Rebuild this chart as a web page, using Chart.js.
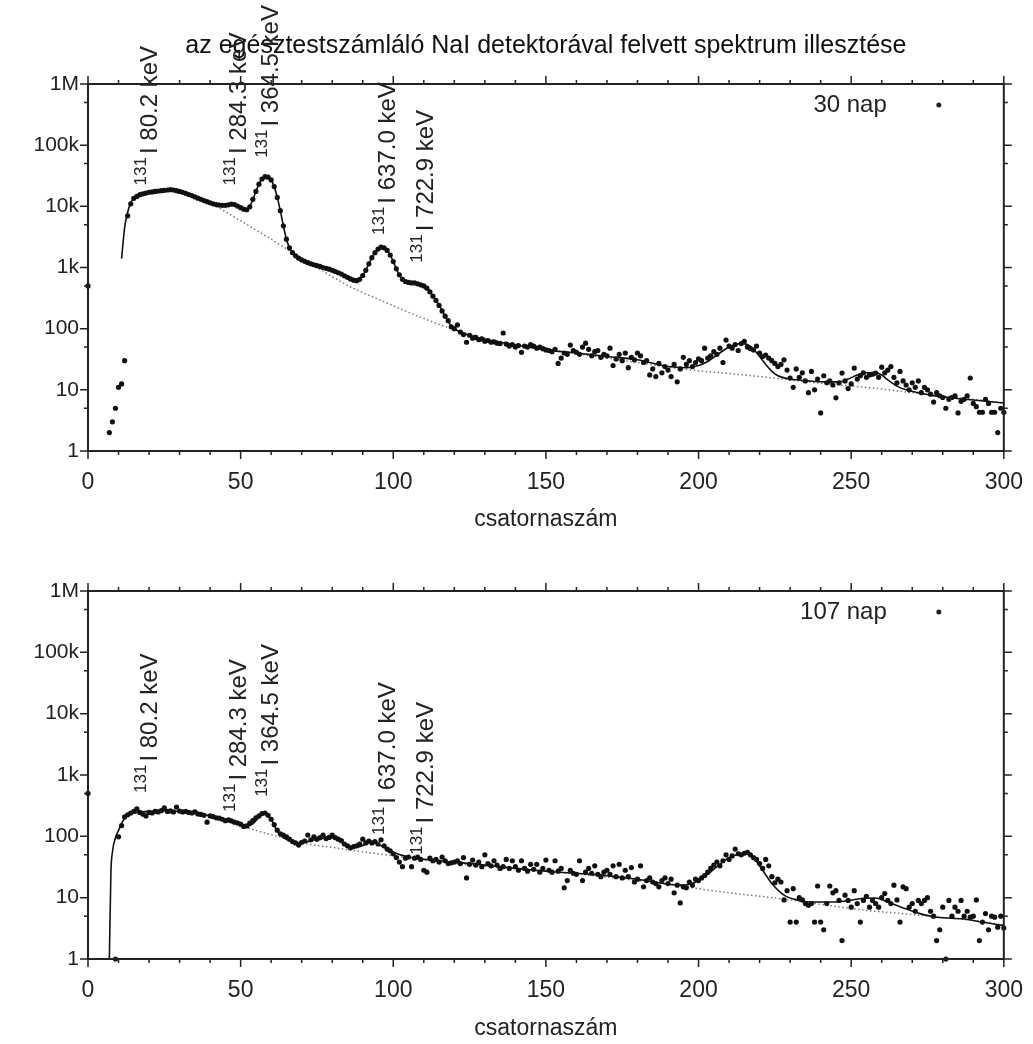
<!DOCTYPE html>
<html>
<head>
<meta charset="utf-8">
<script src="https://cdn.jsdelivr.net/npm/chart.js@4.4.1/dist/chart.umd.min.js"></script>
<style>
  html, body { margin: 0; background: #fff; overflow: hidden; }
  .box { position: absolute; left: 0; width: 1033px; }
  canvas { display: block; }
</style>
</head>
<body>
<div class="box" style="top:0;height:540px"><canvas id="c30"></canvas></div>
<div class="box" style="top:540px;height:504px"><canvas id="c107"></canvas></div>
<script>
// counts per channel (index = channel), null = no point
const counts30 = [
  500, null, null, null, null, null, null, 2, 3, 5,
  11, 12.5, 30, 7000, 11000, 13500, 14500, 15500, 16000, 16500,
  17000, 17200, 17500, 17800, 18000, 18300, 18500, 18700, 18500, 18000,
  17500, 17000, 16300, 15600, 15000, 14300, 13600, 13000, 12400, 11900,
  11400, 11000, 10700, 10500, 10400, 10400, 10600, 10900, 10700, 10100,
  9500, 9000, 8800, 9800, 13000, 17500, 23000, 28000, 30500, 30000,
  27000, 21000, 14000, 8500, 4800, 2900, 2100, 1750, 1550, 1420,
  1330, 1260, 1200, 1150, 1110, 1070, 1040, 1000, 970, 940,
  900, 860, 820, 780, 730, 690, 650, 620, 610, 640,
  740, 900, 1150, 1450, 1750, 2000, 2150, 2100, 1900, 1600,
  1250, 950, 760, 640, 590, 570, 560, 560, 540, 520,
  500, 460, 400, 340, 290, 240, 195, 160, 135, 107,
  100, 115, 88, 80, 60, 78, 70, 72, 66, 68,
  62, 64, 60, 61, 58, 57, 85, 56, 52, 55,
  50, 53, 41, 52, 50, 55, 52, 48, 50, 47,
  45, 44, 42, 46, 27, 33, 40, 38, 54, 44,
  41, 38, 50, 58, 46, 36, 42, 44, 34, 38,
  36, 48, 25, 32, 38, 30, 40, 23, 34, 31,
  40, 36, 28, 30, 17.5, 22, 16.5, 27, 19, 24,
  21, 16.5, 26, 13.5, 22, 34, 26, 30, 24, 28,
  32, 30, 48, 33, 36, 42, 38, 48, 28, 65,
  52, 48, 55, 44, 57, 62, 50, 47, 45, 52,
  40, 35, 37, 33, 30, 27, 24, 26, 31, 21,
  15.6, 11, 22, 16, 19, 14, 9, 20, 10, 15,
  4.2, 17, 13, 14, 12, 7.4, 13, 18.8, 14, 10.5,
  12.5, 22.7, 15, 17, 19, 16, 17.5, 18, 18.8, 16,
  23.5, 19, 21, 24, 16, 13, 20, 14, 12, 10,
  13, 11, 14, 9, 11, 10, 8.5, 6.3, 9, 8,
  7.5, 5, 7, 7.5, 8, 4.2, 6.5, 7, 8, 15.6,
  6, 5.3, 4.3, 4.3, 7, 6, 4.3, 4.3, 2, 5,
  4.3
];
const counts107 = [
  500, null, null, null, null, null, null, null, null, 1,
  98, 150, 207, 225, 240, 255, 280, 245, 230, 215,
  245, 240, 255, 250, 262, 290, 255, 260, 250, 300,
  258, 250, 255, 245, 240, 250, 232, 228, 220, 170,
  215, 210, 200, 198, 190, 180, 185, 178, 170, 165,
  158, 145, 148, 165, 180, 200, 215, 235, 240, 220,
  190, 155, 126, 110, 105, 98, 90, 82, 78, 72,
  80, 84, 105, 88, 98, 90, 95, 105, 92, 96,
  105, 95, 90, 85, 75, 70, 65, 68, 70, 75,
  90, 78, 84, 78, 82, 75, 88, 70, 62, 58,
  52, 45, 38, 32, 44, 46, 32, 44, 46, 42,
  28, 26, 44, 40, 42, 38, 46, 40, 36, 37,
  38, 40, 36, 45, 21, 35, 41, 34, 38, 32,
  50, 36, 33, 40, 34, 30, 32, 42, 30, 40,
  32, 28, 40, 30, 27, 35, 29, 35, 26, 30,
  41, 28, 26, 40, 27, 30, 14.5, 19, 28, 25,
  24, 40, 19, 26, 30, 25, 33, 24, 22, 26,
  28, 24, 33, 22, 35, 21, 28, 22, 31, 18,
  20, 33, 15, 19, 21, 18, 17, 15, 19, 21,
  17, 20, 12, 16, 8.2, 15, 14.5, 18, 16, 20,
  19, 21, 23, 26, 30, 34, 38, 33, 40, 50,
  42, 48, 62, 52, 50, 53, 55, 50, 45, 42,
  36, 30, 42, 33, 22, 17.5, 20, 18, 9.2, 13,
  4, 14, 4, 10, 9.2, 8, 7.5, 8, 4, 15.5,
  4, 3, 8, 15.5, 12, 13, 9, 2, 11, 9,
  7, 13, 8, 4, 9, 10.5, 7, 9, 8, 7,
  10, 11.7, 9, 8, 16, 9.2, 4, 15, 14, 7,
  8, 6, 9, 8, 9, 10, 6, 5, 2, 3,
  7, 1, 9, 5, 7, 6, 9, 5, 6, 4.8,
  5, 9.2, 2, 4, 5.5, 3, 5, 4.8, 3.3, 5,
  3.2
];

// fitted curve
const fitCh30 = [11,12,13,14,15,17,20,25,28,32,36,40,43,45,47,49,51,52,53,54,55,56,57,58,59,60,61,62,63,64,65,66,67,69,72,76,80,84,87,88,89,90,91,92,93,94,95,96,97,98,99,100,101,102,103,105,107,109,111,113,115,117,119,122,126,132,140,150,160,170,180,190,196,200,203,206,209,212,214,216,218,220,222,224,226,230,236,242,246,249,252,255,258,260,262,265,268,272,276,282,290,300];
const fitVal30 = [1400,4500,8000,11500,13500,15500,17000,18300,18500,16300,13600,11400,10500,10400,10800,10100,9100,9000,10000,13000,17500,23000,28000,30500,30000,27000,21000,14000,8500,4800,2900,2100,1750,1420,1200,1040,900,730,630,620,650,750,900,1150,1450,1750,2000,2150,2100,1900,1600,1250,950,760,650,580,565,530,470,340,240,160,110,88,75,64,54,45,40,35,31,24,23,25,29,37,47,55,57,55,46,35,26,20,17,15,14,13.5,13.5,15,17.5,19,19,17.5,14.5,11.5,10,9,8.2,7.5,6.8,6.1];
const fitCh107 = [7,7.5,8,9,10,11.5,13,15,20,25,30,35,40,43,47,52,54,56,58,60,62,64,66,69,72,76,80,83,86,89,93,96,100,105,115,125,135,150,167,180,194,198,203,206,209,212,215,218,221,224,228,233,238,244,249,254,258,262,267,272,278,287,293,300];
const fitVal107 = [1,25,55,95,125,180,215,240,255,262,255,242,215,192,170,148,160,205,233,190,120,95,85,78,82,92,94,80,66,68,80,70,55,46,40,36,32,27,23.5,20,16,17,24,32,42,49,52,44,28,17,11,9,8.5,8.5,8.9,9.8,9.9,8.5,6.8,5.6,4.8,4.5,4,3.5];

// background (dotted)
const bgCh30 = [42,50,60,67,75,86,95,105,119,130,140,150,160,170,180,190,200,210,226,240,257,270,285,300];
const bgVal30 = [10000,5800,2900,1750,1000,480,305,185,100,70,56,46,39,33,28,23.5,20.5,18.5,15.3,12.8,10.7,9,7.5,6.1];
const bgCh107 = [50,55,62,70,80,90,100,110,120,135,150,165,180,195,200,210,225,240,255,265,275,287,300];
const bgVal107 = [150,125,100,78,66,56,48,41,36,31,27,23,19,15.5,14,12,9.9,7.8,6.2,5.6,5,4.4,3.6];

// peak labels
const peakEnergies = ['80.2', '284.3', '364.5', '637.0', '722.9'];
const peakChannels = [20, 49, 59.5, 98, 110.5];
const labelBase30 = [22000, 22000, 62000, 3400, 1200];
const labelBase107 = [510, 250, 440, 105, 50];

const yTickValues = [1, 10, 100, 1000, 10000, 100000, 1000000];
const yTickLabels = ['1', '10', '100', '1k', '10k', '100k', '1M'];

const chartTitle = 'az egésztestszámláló NaI detektorával felvett spektrum illesztése';

const FONT = '"Liberation Sans", Arial, Helvetica, sans-serif';
Chart.defaults.font.family = FONT;
Chart.defaults.color = '#222';

const toPoints = arr => arr.map((v, i) => v == null ? null : { x: i, y: v }).filter(p => p);
const pairs = (xs, ys) => xs.map((x, i) => ({ x: x, y: ys[i] }));

const framePlugin = {
  id: 'frame',
  afterDraw(chart, args, opts) {
    const { ctx, chartArea: a, scales: { x, y } } = chart;
    ctx.save();
    ctx.strokeStyle = '#222';
    ctx.lineWidth = 1.5;
    ctx.beginPath();
    for (let v = 0; v <= 300; v += 10) {
      const px = x.getPixelForValue(v);
      const len = v % 50 === 0 ? 8 : 4;
      ctx.moveTo(px, a.bottom); ctx.lineTo(px, a.bottom + len);
      ctx.moveTo(px, a.top); ctx.lineTo(px, a.top - len);
    }
    yTickValues.forEach((v, k) => {
      const py = y.getPixelForValue(v);
      ctx.moveTo(a.left, py); ctx.lineTo(a.left - 8, py);
      ctx.moveTo(a.right, py); ctx.lineTo(a.right + 8, py);
      if (k < yTickValues.length - 1) {
        const pm = y.getPixelForValue(v * 5);
        ctx.moveTo(a.left, pm); ctx.lineTo(a.left - 4, pm);
        ctx.moveTo(a.right, pm); ctx.lineTo(a.right + 4, pm);
      }
    });
    ctx.stroke();
    ctx.lineWidth = 2;
    ctx.strokeRect(a.left, a.top, a.right - a.left, a.bottom - a.top);

    // title, centred over the plot
    ctx.fillStyle = '#111';
    if (opts.title) {
      ctx.font = '25px ' + FONT;
      ctx.textAlign = 'center';
      ctx.textBaseline = 'middle';
      ctx.fillText(opts.title, (a.left + a.right) / 2, 46);
    }

    // legend
    ctx.fillStyle = '#222';
    ctx.font = '24px ' + FONT;
    ctx.textAlign = 'right';
    ctx.textBaseline = 'middle';
    ctx.fillText(opts.legend, a.right - 117, a.top + 21);
    ctx.beginPath();
    ctx.arc(a.right - 65, a.top + 21, 2.5, 0, Math.PI * 2);
    ctx.fill();

    // peak labels
    ctx.textAlign = 'left';
    ctx.textBaseline = 'alphabetic';
    peakEnergies.forEach((e, i) => {
      const px = x.getPixelForValue(peakChannels[i]);
      const py = y.getPixelForValue(opts.base[i]);
      ctx.save();
      ctx.translate(px + 8, py);
      ctx.rotate(-Math.PI / 2);
      ctx.font = '17px ' + FONT;
      ctx.fillText('131', 0, -11);
      const w = ctx.measureText('131').width;
      ctx.font = '24px ' + FONT;
      ctx.fillText('I ' + e + ' keV', w + 3, 0);
      ctx.restore();
    });
    ctx.restore();
  }
};

function makeChart(id, counts, fitCh, fitVal, bgCh, bgVal, legend, base, top, title) {
  const isTop = !!title;
  return new Chart(document.getElementById(id), {
    type: 'scatter',
    data: {
      datasets: [
        {
          label: legend,
          data: toPoints(counts),
          pointRadius: 2.6,
          pointBackgroundColor: '#111',
          pointBorderWidth: 0,
          showLine: false,
          clip: 6
        },
        {
          label: 'illesztés',
          data: pairs(fitCh, fitVal),
          showLine: true,
          pointRadius: 0,
          borderColor: '#111',
          borderWidth: 1.6,
          cubicInterpolationMode: 'monotone'
        },
        {
          label: 'háttér',
          data: pairs(bgCh, bgVal),
          showLine: true,
          pointRadius: 0,
          borderColor: '#777',
          borderWidth: 1.5,
          borderDash: [1.5, 2.5],
          cubicInterpolationMode: 'monotone'
        }
      ]
    },
    options: {
      responsive: true,
      maintainAspectRatio: false,
      animation: false,
      layout: { padding: { top: top, right: 26, left: 0, bottom: 0 } },
      plugins: {
        legend: { display: false },
        tooltip: { enabled: false },
        title: { display: false },
        frame: { legend: legend, base: base, title: title }
      },
      scales: {
        x: {
          type: 'linear',
          min: 0,
          max: 300,
          grid: { display: false },
          border: { display: false },
          ticks: { stepSize: 50, padding: 10, maxRotation: 0, autoSkip: false, font: { size: 23 }, color: '#222' },
          title: { display: true, text: 'csatornaszám', font: { size: 23 }, color: '#222', padding: { top: 0, bottom: isTop ? 7 : 2 } },
          afterFit: s => { s.height = isTop ? 89 : 85; }
        },
        y: {
          type: 'logarithmic',
          min: 1,
          max: 1000000,
          grid: { display: false },
          border: { display: false },
          afterBuildTicks: s => { s.ticks = yTickValues.map(v => ({ value: v })); },
          ticks: {
            padding: 1,
            font: { size: 21 },
            color: '#222',
            callback: (v, i) => yTickLabels[i]
          },
          afterFit: s => { s.width = 88; }
        }
      }
    },
    plugins: [framePlugin]
  });
}

makeChart('c30', counts30, fitCh30, fitVal30, bgCh30, bgVal30, '30 nap', labelBase30, 84, chartTitle);
makeChart('c107', counts107, fitCh107, fitVal107, bgCh107, bgVal107, '107 nap', labelBase107, 51, null);
</script>
</body>
</html>
